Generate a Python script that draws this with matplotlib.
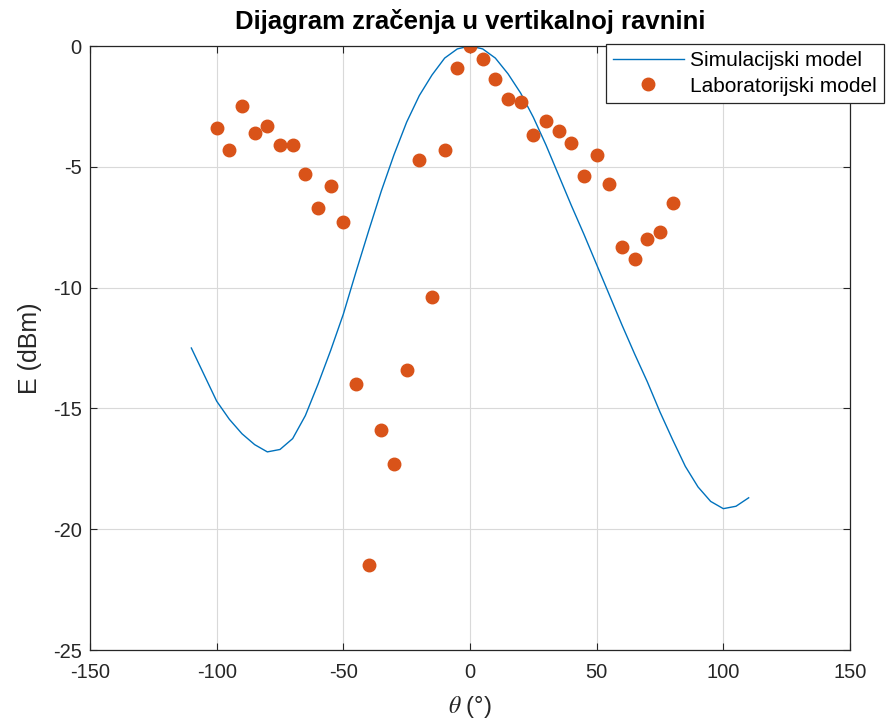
import matplotlib
matplotlib.use("Agg")
import matplotlib.pyplot as plt

# simulated pattern, every 5 degrees
theta_sim = [-110, -105, -100, -95, -90, -85, -80, -75, -70, -65, -60, -55,
             -50, -45, -40, -35, -30, -25, -20, -15, -10, -5, 0, 5, 10, 15,
             20, 25, 30, 35, 40, 45, 50, 55, 60, 65, 70, 75, 80, 85, 90, 95,
             100, 105, 110]
e_sim = [-12.5, -13.6, -14.7, -15.45, -16.05, -16.5, -16.8, -16.7, -16.25, -15.3,
         -14.0, -12.6, -11.1, -9.35, -7.65, -6.0, -4.5, -3.15, -2.05, -1.2, -0.5,
         -0.12, 0.0, -0.12, -0.5, -1.15, -1.95, -2.95, -4.1, -5.35, -6.6, -7.8,
         -9.05, -10.3, -11.55, -12.75, -13.9, -15.15, -16.3, -17.4, -18.25,
         -18.85, -19.15, -19.05, -18.7]

# measured values (laboratory model)
theta_lab = [-100, -95, -90, -85, -80, -75, -70, -65, -60, -55, -50, -45, -40,
             -35, -30, -25, -20, -15, -10, -5, 0, 5, 10, 15, 20, 25, 30, 35,
             40, 45, 50, 55, 60, 65, 70, 75, 80]
e_lab = [-3.4, -4.3, -2.5, -3.6, -3.3, -4.1, -4.1, -5.3, -6.7, -5.8, -7.3,
         -14.0, -21.5, -15.9, -17.3, -13.4, -4.7, -10.4, -4.3, -0.9, 0.0,
         -0.55, -1.35, -2.2, -2.3, -3.7, -3.1, -3.5, -4.0, -5.4, -4.5, -5.7,
         -8.3, -8.8, -8.0, -7.7, -6.5]

plt.rcParams['font.family'] = ['Liberation Sans', 'DejaVu Sans']
plt.rcParams['mathtext.fontset'] = 'stix'
plt.rcParams['axes.unicode_minus'] = False

dark = '#262626'
fig = plt.figure(figsize=(8.86, 7.28), dpi=100)
ax = fig.add_axes([90 / 886, 1 - 650 / 728, 760 / 886, 604 / 728])

ax.plot(theta_sim, e_sim, color='#0072BD', linewidth=1.0, label='Simulacijski model')
ax.plot(theta_lab, e_lab, 'o', color='#D95319', markersize=9,
        markeredgecolor='#D95319', label='Laboratorijski model')

ax.set_xlim(-150, 150)
ax.set_ylim(-25, 0)
ax.set_xticks(range(-150, 151, 50))
ax.set_yticks(range(-25, 1, 5))
ax.grid(True, color='#d9d9d9', linewidth=0.8)
ax.set_axisbelow(True)
ax.tick_params(direction='in', top=True, right=True, length=5, width=0.8,
               colors=dark, labelsize=14.5)
ax.tick_params(axis='x', pad=9)
ax.tick_params(axis='y', pad=6)
for s in ax.spines.values():
    s.set_color(dark)
    s.set_linewidth(0.9)

ax.set_title('Dijagram zračenja u vertikalnoj ravnini', fontsize=18.5,
             fontweight='bold', color='black', pad=12)
ax.set_xlabel(r'$\theta$ (°)', fontsize=17, color=dark, labelpad=9)
ax.set_ylabel('E (dBm)', fontsize=18, color=dark, labelpad=8)

leg = ax.legend(loc='upper right', bbox_to_anchor=(884 / 886, 1 - 44 / 728),
                bbox_transform=fig.transFigure, fontsize=15, frameon=True,
                fancybox=False, framealpha=1, edgecolor=dark, borderpad=0.35,
                labelspacing=0.3, handlelength=3.4, handletextpad=0.3,
                borderaxespad=0)
leg.get_frame().set_linewidth(0.9)

fig.savefig('out.png', dpi=100)
